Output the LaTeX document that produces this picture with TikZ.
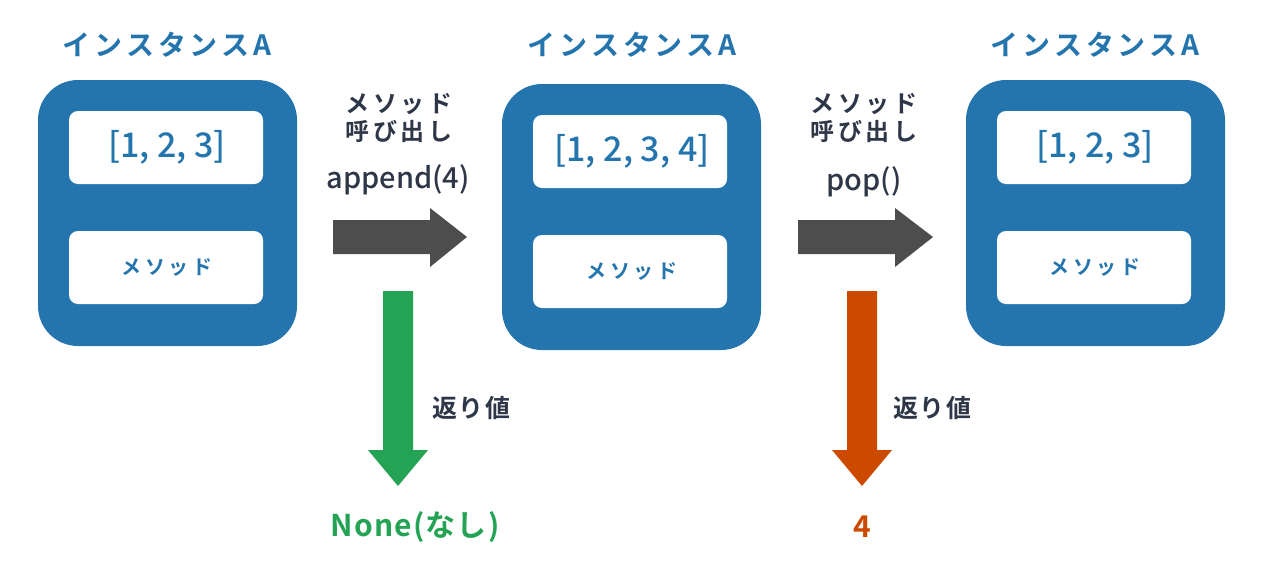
\documentclass[tikz,border=0pt]{standalone}
\usepackage{fontspec}
\setmainfont{Noto Sans CJK JP}[BoldFont={Noto Sans CJK JP Bold}]
\newfontfamily\medfont{Noto Sans CJK JP Medium}
\definecolor{cblue}{HTML}{2475AE}
\definecolor{cgray}{HTML}{4D4D4D}
\definecolor{cgreen}{HTML}{24A354}
\definecolor{corange}{HTML}{CC4A00}
\definecolor{ctext}{HTML}{2D3748}
\tikzset{
  outer/.style={fill=cblue, rounded corners=40pt},
  inner/.style={fill=white, rounded corners=9pt},
  title/.style={text=cblue, font=\bfseries\fontsize{28}{30}\selectfont\addfontfeatures{LetterSpace=14}, inner sep=0pt},
  listtxt/.style={text=cblue, font=\medfont\fontsize{34}{36}\selectfont, inner sep=0pt},
  methtxt/.style={text=cblue, font=\bfseries\fontsize{20}{22}\selectfont\addfontfeatures{LetterSpace=18}, inner sep=0pt},
  calltxt/.style={text=ctext, font=\bfseries\fontsize{24}{26}\selectfont\addfontfeatures{LetterSpace=14}, inner sep=0pt},
  codetxt/.style={text=ctext, font=\medfont\fontsize{29}{31}\selectfont, inner sep=0pt},
  rettxt/.style={text=ctext, font=\bfseries\fontsize{25}{27}\selectfont\addfontfeatures{LetterSpace=6}, inner sep=0pt},
  restxt/.style={font=\bfseries\fontsize{30}{32}\selectfont\addfontfeatures{LetterSpace=4}, inner sep=0pt},
}
\begin{document}
\begin{tikzpicture}[x=1pt,y=-1pt]
\useasboundingbox (0,0) rectangle (1266,576);
% instance boxes
\foreach \n/\xa/\ya/\cx/\lst in {a/38/80/167/{[1, 2, 3]}, b/502/84/632/{[1, 2, 3, 4]}, c/966/80/1095/{[1, 2, 3]}}{
  \fill[outer] (\xa,\ya) rectangle ++(259,266);
  \fill[inner] (\xa+31,\ya+31) rectangle ++(194,73);
  \fill[inner] (\xa+31,\ya+151) rectangle ++(194,73);
  \node[title] (t\n) at (\cx,45) {インスタンスA};
  \node[listtxt] (l\n) at (\cx,\ya+67) {\lst};
  \node[methtxt] (m\n) at (\cx,\ya+187) {メソッド};
}
% call labels
\node[calltxt, align=center] (c1) at (399,118) {メソッド\\[2pt]呼び出し};
\node[codetxt] (code1) at (398,180) {append(4)};
\node[calltxt, align=center] (c2) at (864,118) {メソッド\\[2pt]呼び出し};
\node[codetxt] (code2) at (864,182) {pop()};
% gray arrows
\coordinate (g1s) at (333,237);
\coordinate (g1e) at (467,237);
\fill[cgray] (333,220) -- (430,220) -- (430,208) -- (g1e) -- (430,267) -- (430,254) -- (333,254) -- cycle;
\coordinate (g2s) at (798,237);
\coordinate (g2e) at (933,237);
\fill[cgray] (798,220) -- (895,220) -- (895,208) -- (g2e) -- (895,267) -- (895,254) -- (798,254) -- cycle;
% return arrows
\coordinate (r1e) at (398,486);
\fill[cgreen] (383,291) -- (413,291) -- (413,450) -- (428,450) -- (r1e) -- (368,450) -- (383,450) -- cycle;
\coordinate (r2e) at (862,486);
\fill[corange] (847,291) -- (877,291) -- (877,450) -- (892,450) -- (r2e) -- (832,450) -- (847,450) -- cycle;
\node[rettxt] (ret1) at (471,408) {返り値};
\node[rettxt] (ret2) at (932,408) {返り値};
\node[restxt, text=cgreen] (res1) at (415,527) {None(なし)};
\node[restxt, text=corange] (res2) at (862,527) {4};
\end{tikzpicture}
\end{document}
